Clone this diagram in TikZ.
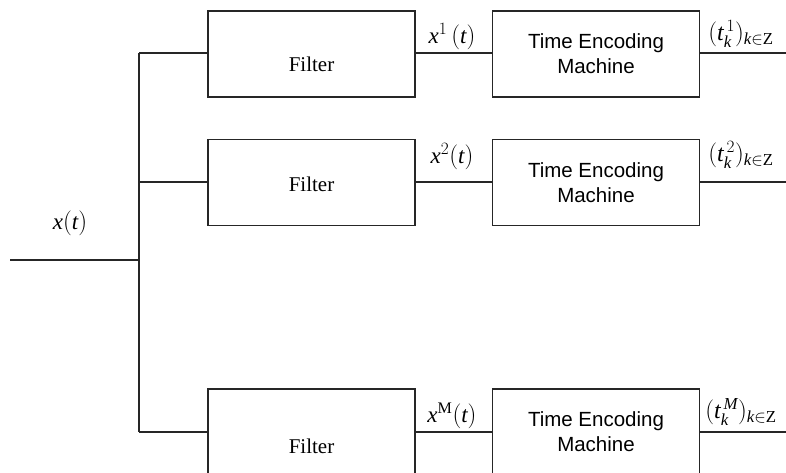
\documentclass[tikz,border=0pt]{standalone}
\usepackage{fontspec}
\setmainfont{Liberation Serif}
\newfontfamily\temfont{Liberation Sans}
\begin{document}
\begin{tikzpicture}[x=1pt,y=1pt,
  wire/.style={line width=1.3pt, draw=black!85},
  blockbox/.style={draw=black!85, line width=1.3pt, minimum width=207pt, minimum height=86pt, inner sep=0pt},
  filtertext/.style={font=\fontsize{21}{24}\selectfont},
  temtext/.style={font=\temfont\fontsize{20.5}{25}\selectfont, align=center},
  sig/.style={font=\fontsize{23}{26}\selectfont, inner sep=0pt},
  seq/.style={font=\fontsize{24}{27}\selectfont, inner sep=0pt}]
\useasboundingbox (0,0) rectangle (786,472);

% input and distribution bus
\coordinate (in) at (10,212);
\coordinate (bus) at (139,212);
\coordinate (b1) at (139,419);
\coordinate (b2) at (139,290);
\coordinate (b3) at (139,40);
\draw[wire] (in) -- (bus);
\draw[wire] (b1) -- (b3);
\node[sig] (xin) at (70,249) {$\mathit{x}(\mathit{t})$};

% branch 1
\node[blockbox] (f1) at (311.5,418) {};
\node[blockbox] (tem1) at (596,418) {};
\node[filtertext] at (311.5,408) {Filter};
\node[temtext] at (tem1) {Time Encoding\\Machine};
\coordinate (o1) at (786,419);
\draw[wire] (b1) -- (b1 -| f1.west);
\draw[wire] (f1.east |- b1) -- (tem1.west |- b1);
\draw[wire] (tem1.east |- b1) -- (o1);
\node[sig] (x1) at (452,435) {$\mathit{x}^{1}\,(\mathit{t})$};
\node[seq] (t1) at (741,438) {$(\mathit{t}_{\mathit{k}}^{\,1})_{\mathit{k}\in\mathrm{Z}}$};

% branch 2
\node[blockbox] (f2) at (311.5,289.5) {};
\node[blockbox] (tem2) at (596,289.5) {};
\node[filtertext] at (311.5,288) {Filter};
\node[temtext] at (tem2) {Time Encoding\\Machine};
\coordinate (o2) at (786,290);
\draw[wire] (b2) -- (b2 -| f2.west);
\draw[wire] (f2.east |- b2) -- (tem2.west |- b2);
\draw[wire] (tem2.east |- b2) -- (o2);
\node[sig] (x2) at (452,315) {$\mathit{x}^{2}(\mathit{t})$};
\node[seq] (t2) at (741,317) {$(\mathit{t}_{\mathit{k}}^{\,2})_{\mathit{k}\in\mathrm{Z}}$};

% branch M
\node[blockbox] (f3) at (311.5,40) {};
\node[blockbox] (tem3) at (596,40) {};
\node[filtertext] at (311.5,26) {Filter};
\node[temtext] at (tem3) {Time Encoding\\Machine};
\coordinate (o3) at (786,40);
\draw[wire] (b3) -- (b3 -| f3.west);
\draw[wire] (f3.east |- b3) -- (tem3.west |- b3);
\draw[wire] (tem3.east |- b3) -- (o3);
\node[sig] (x3) at (452,56) {$\mathit{x}^{\mathrm{M}}(\mathit{t})$};
\node[seq] (t3) at (741,60) {$(\mathit{t}_{\mathit{k}}^{\,\mathit{M}})_{\mathit{k}\in\mathrm{Z}}$};
\end{tikzpicture}
\end{document}
